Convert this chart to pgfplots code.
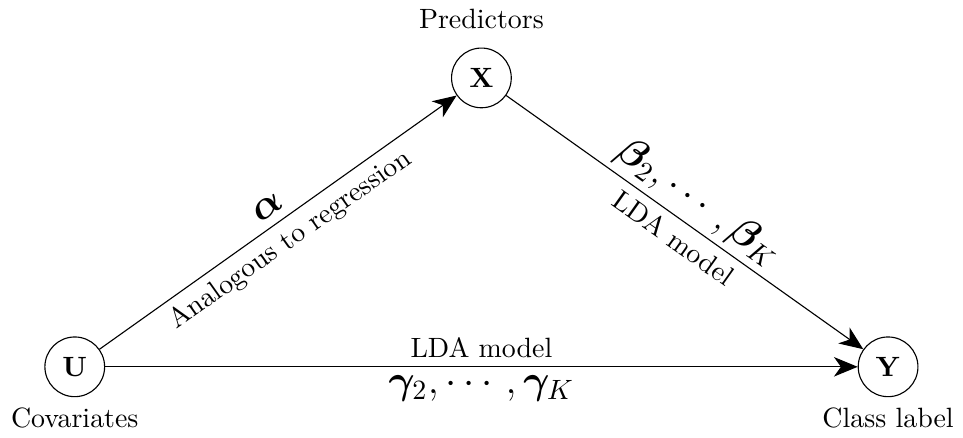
\documentclass[border=0pt]{standalone}
\usepackage{pgfplots}
\pgfplotsset{compat=1.18}
\usepackage{amsmath,amssymb,bm}
\usetikzlibrary{arrows.meta}
\begin{document}
\begin{tikzpicture}
\begin{axis}[
  hide axis, scale only axis,
  width=344pt, height=154.6pt,
  xmin=0, xmax=963, ymin=0, ymax=433, y dir=reverse,
  clip=false,
]
\path (rel axis cs:0,0) rectangle (rel axis cs:1,1);
\node[circle,draw,minimum size=21.4pt,inner sep=0pt] (U) at (axis cs:75,362) {$\mathbf{U}$};
\node[circle,draw,minimum size=21.4pt,inner sep=0pt] (X) at (axis cs:483,72) {$\mathbf{X}$};
\node[circle,draw,minimum size=21.4pt,inner sep=0pt] (Y) at (axis cs:891,362) {$\mathbf{Y}$};
\node at (axis cs:75,413) {Covariates};
\node at (axis cs:483,13) {Predictors};
\node at (axis cs:891,413) {Class label};
\draw[-{Stealth[length=8.5pt,width=7pt,inset=2.5pt]}] (U) -- (X)
  node[midway,sloped,above,inner sep=3pt] {\Large$\bm{\alpha}$}
  node[midway,sloped,below,inner sep=3pt] {Analogous to regression};
\draw[-{Stealth[length=8.5pt,width=7pt,inset=2.5pt]}] (X) -- (Y)
  node[midway,sloped,above,inner sep=2pt] {\Large$\bm{\beta}_2,\cdots,\bm{\beta}_K$}
  node[midway,sloped,below,inner sep=3pt] {LDA model};
\draw[-{Stealth[length=8.5pt,width=7pt,inset=2.5pt]}] (U) -- (Y)
  node[midway,above,inner sep=3pt] {LDA model}
  node[midway,below,inner sep=3pt] {\Large$\bm{\gamma}_2,\cdots,\bm{\gamma}_K$};
\end{axis}
\end{tikzpicture}
\end{document}
